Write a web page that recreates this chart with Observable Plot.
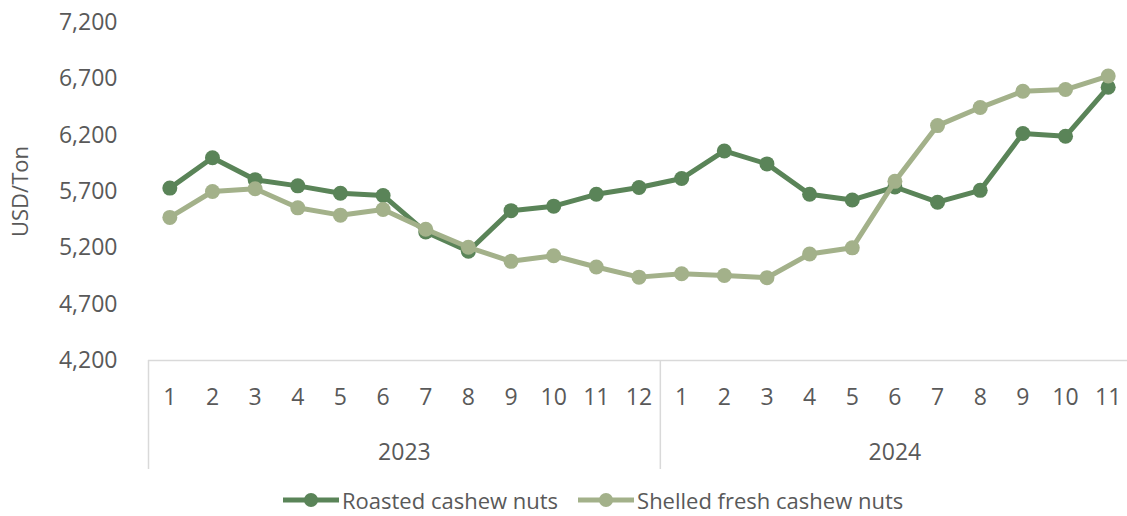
<!DOCTYPE html>
<html>
<head>
<meta charset="utf-8">
<script src="https://cdn.jsdelivr.net/npm/d3@7"></script>
<script src="https://cdn.jsdelivr.net/npm/@observablehq/plot@0.6"></script>
<style>
  html, body { margin: 0; padding: 0; background: #fff; }
  body { width: 1127px; height: 516px; position: relative; overflow: hidden; font-family: "Open Sans", "Liberation Sans", sans-serif; }
  #legend { position: absolute; left: 283px; top: 487px; height: 26px; display: flex; align-items: center; font-size: 22px; line-height: 26px; color: #595959; white-space: nowrap; }
  .item { display: flex; align-items: center; margin-right: 20px; }
  .item svg { margin-right: 3px; }
</style>
</head>
<body>
<div id="chart"></div>
<div id="legend"></div>
<script>
const monthLabels = ["1","2","3","4","5","6","7","8","9","10","11","12","1","2","3","4","5","6","7","8","9","10","11"];
const years = ["2023", "2024"];
const yearStart = [0, 12];
const yearCount = [12, 11];
const seriesNames = ["Roasted cashew nuts", "Shelled fresh cashew nuts"];
const seriesColors = ["#5a8458", "#a3b18a"];
const roasted = [5730, 6000, 5805, 5750, 5685, 5665, 5340, 5170, 5530, 5570, 5675, 5735, 5815, 6060, 5945, 5675, 5625, 5740, 5605, 5710, 6215, 6190, 6625];
const shelled = [5470, 5700, 5725, 5555, 5490, 5540, 5365, 5205, 5080, 5130, 5030, 4940, 4970, 4955, 4935, 5145, 5200, 5790, 6285, 6445, 6590, 6605, 6725];
const yTicks = [4200, 4700, 5200, 5700, 6200, 6700, 7200];

const idx = d3.range(monthLabels.length);
const dataR = idx.map(i => ({i, v: roasted[i], s: seriesNames[0]}));
const dataS = idx.map(i => ({i, v: shelled[i], s: seriesNames[1]}));
const separators = [-0.5, ...yearStart.slice(1).map(s => s - 0.5), monthLabels.length - 0.5];
const yearCenters = years.map((y, k) => yearStart[k] + (yearCount[k] - 1) / 2);

const font = "'Open Sans', 'Liberation Sans', sans-serif";
const txt = "#595959";

const chart = Plot.plot({
  width: 1127,
  height: 480,
  marginLeft: 148,
  marginRight: 0,
  marginTop: 22,
  marginBottom: 120,
  style: {fontFamily: font, fontSize: "23px", color: txt, background: "#fff", overflow: "visible"},
  x: {domain: [-0.5, monthLabels.length - 0.5], range: [148, 1129]},
  y: {domain: [4200, 7200]},
  color: {domain: seriesNames, range: seriesColors},
  marks: [
    Plot.axisY(yTicks, {tickSize: 0, tickPadding: 31, tickFormat: d3.format(","), fontSize: 23, fill: txt, label: null}),
    Plot.text(["USD/Ton"], {frameAnchor: "left", textAnchor: "middle", rotate: -90, dx: -128, fontSize: 22, fill: txt}),
    Plot.axisX(separators, {tickSize: 109, tickFormat: () => "", stroke: "#d9d9d9", strokeWidth: 1.5, label: null}),
    Plot.axisX(idx, {tickSize: 0, tickPadding: 28, tickFormat: i => monthLabels[i], fontSize: 23, fill: txt, label: null}),
    Plot.axisX(yearCenters, {tickSize: 0, tickPadding: 83, tickFormat: (d, k) => years[k], fontSize: 23, fill: txt, label: null}),
    Plot.ruleY([4200], {stroke: "#d9d9d9", strokeWidth: 1.5}),
    Plot.line(dataR, {x: "i", y: "v", stroke: "s", strokeWidth: 5}),
    Plot.dot(dataR, {x: "i", y: "v", fill: "s", r: 7.5}),
    Plot.line(dataS, {x: "i", y: "v", stroke: "s", strokeWidth: 5}),
    Plot.dot(dataS, {x: "i", y: "v", fill: "s", r: 7.5})
  ]
});
document.getElementById("chart").appendChild(chart);

const legend = document.getElementById("legend");
seriesNames.forEach((name, k) => {
  const item = document.createElement("div");
  item.className = "item";
  item.innerHTML = `<svg width="56" height="18"><line x1="0" y1="9" x2="56" y2="9" stroke="${seriesColors[k]}" stroke-width="5"/><circle cx="28" cy="9" r="7" fill="${seriesColors[k]}"/></svg><span>${name}</span>`;
  legend.appendChild(item);
});
</script>
</body>
</html>
